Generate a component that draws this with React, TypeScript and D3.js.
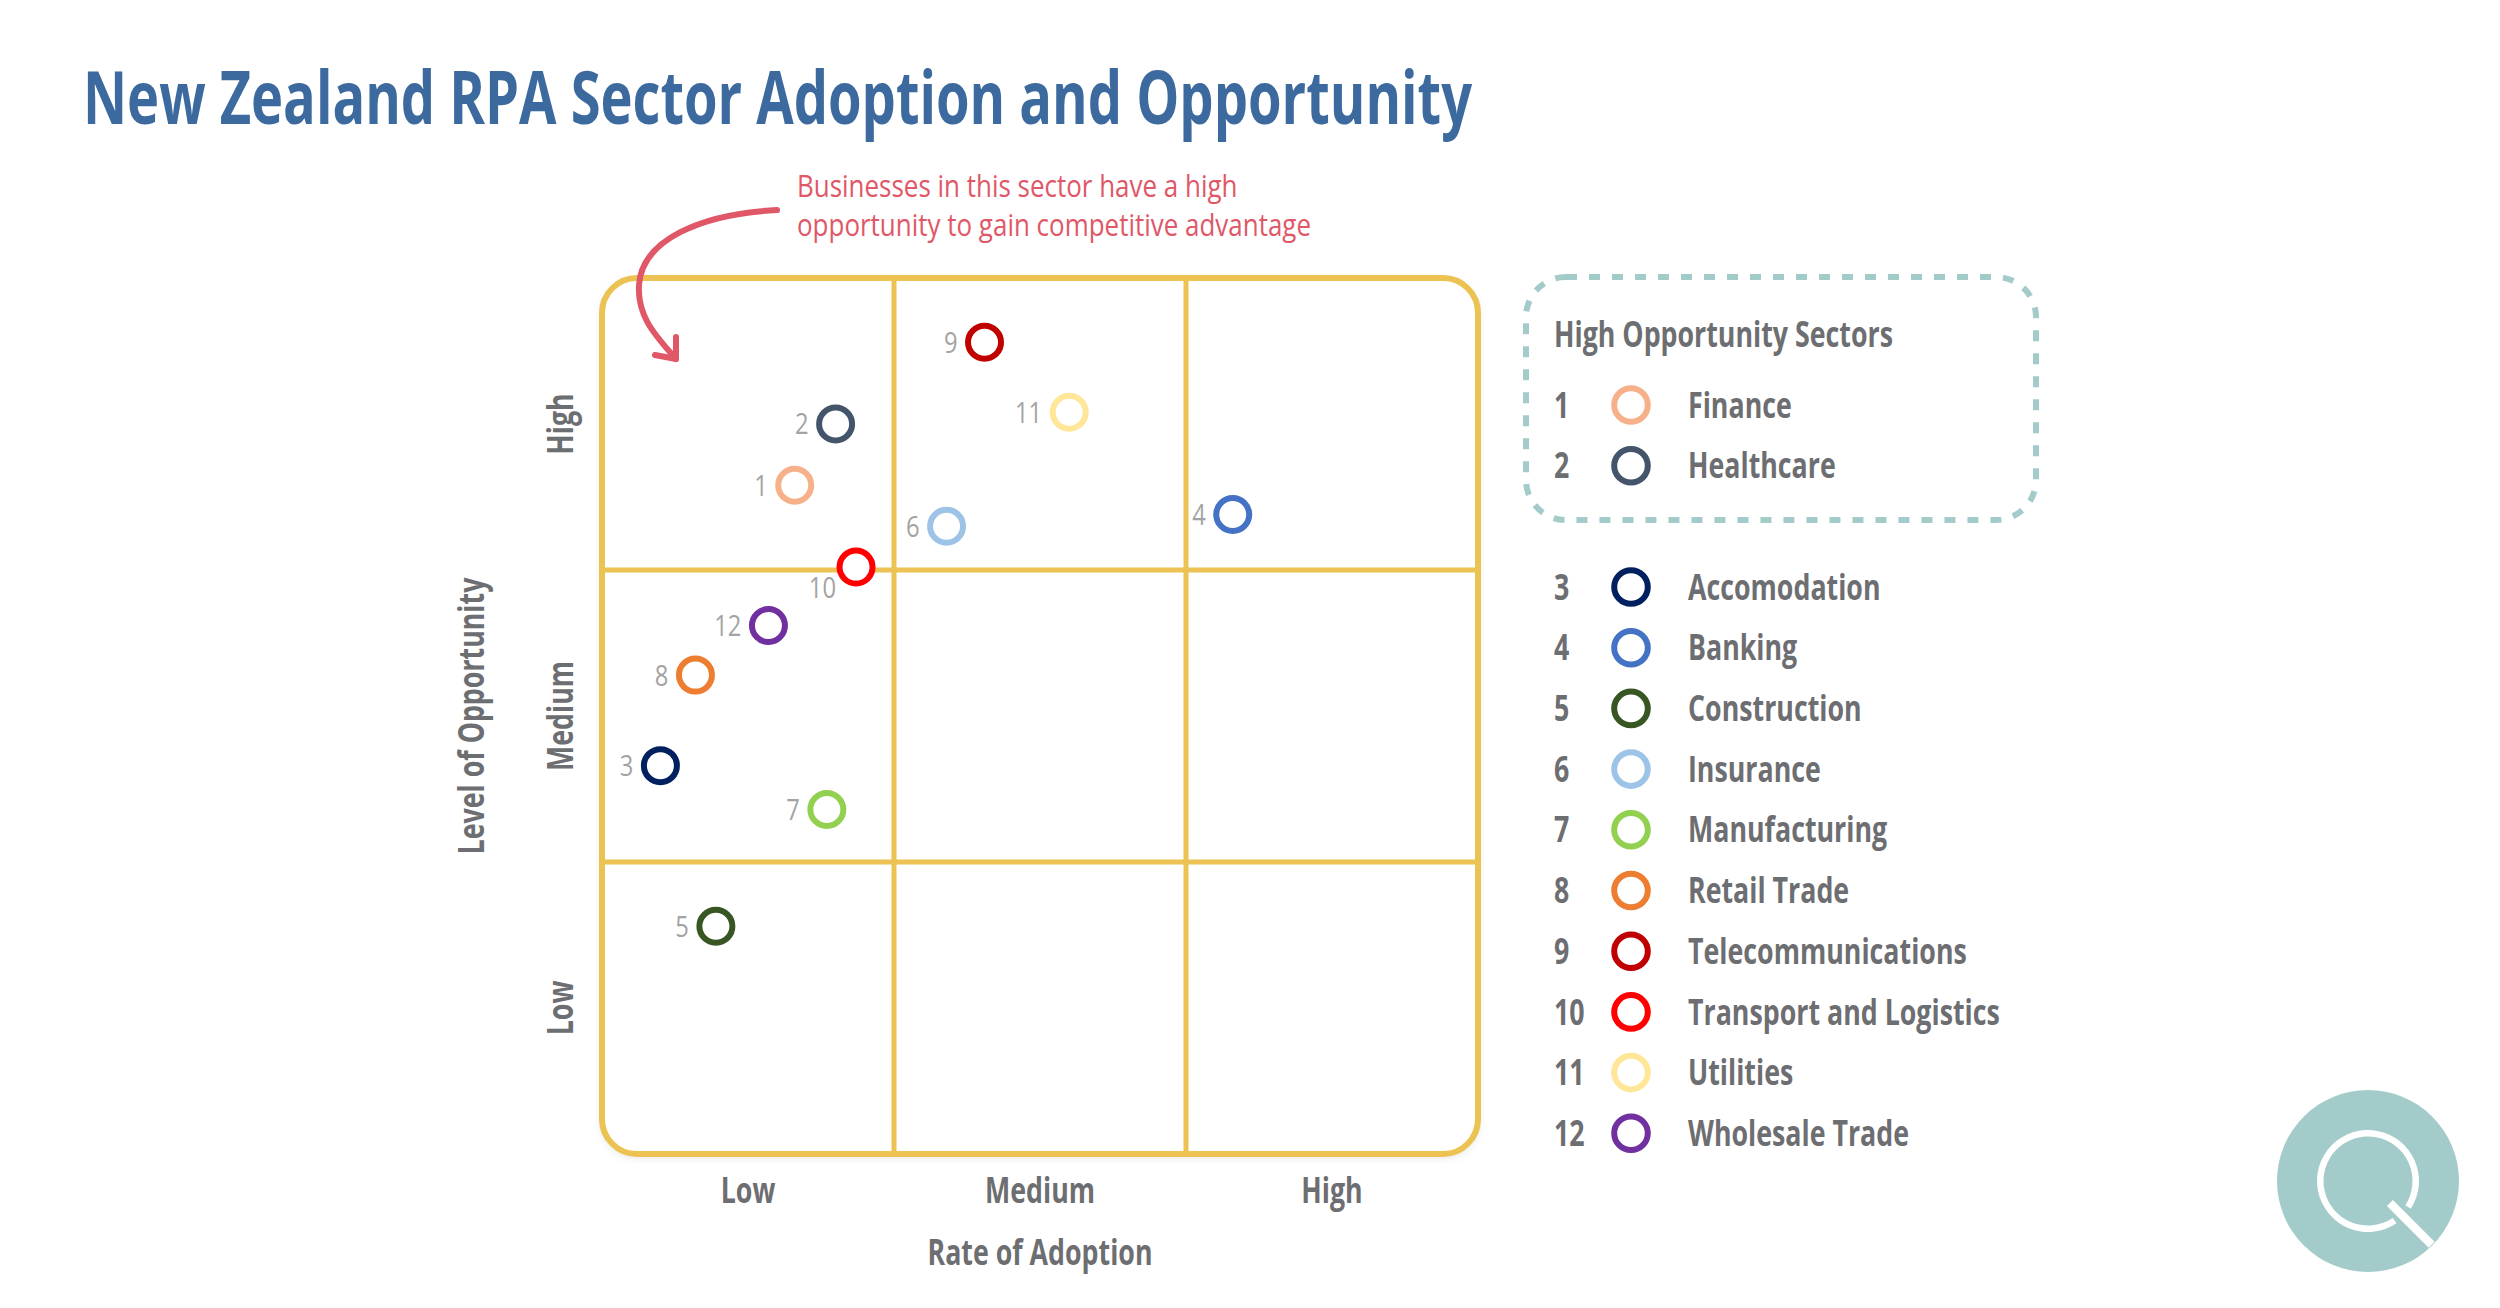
import React from 'react';
import * as d3 from 'd3';

// ---------- data ----------
const sectorIds = [1, 2, 3, 4, 5, 6, 7, 8, 9, 10, 11, 12];
const sectorNames = [
  'Finance', 'Healthcare', 'Accomodation', 'Banking', 'Construction', 'Insurance',
  'Manufacturing', 'Retail Trade', 'Telecommunications', 'Transport and Logistics',
  'Utilities', 'Wholesale Trade',
];
// Rate of adoption (0-3 scale: Low 0-1, Medium 1-2, High 2-3)
const adoptionValues = [0.66, 0.80, 0.20, 2.16, 0.39, 1.18, 0.77, 0.32, 1.31, 0.87, 1.60, 0.57];
// Level of opportunity (0-3 scale)
const opportunityValues = [2.29, 2.50, 1.33, 2.19, 0.78, 2.15, 1.18, 1.64, 2.78, 2.01, 2.54, 1.81];
const sectorColors = [
  '#f7b18a', '#44546a', '#002060', '#4472c4', '#375623', '#9dc3e6',
  '#92d050', '#ed7d31', '#c00000', '#ff0000', '#ffe699', '#7030a0',
];
const highOpportunityIds = [1, 2];
const levelLabels = ['Low', 'Medium', 'High'];

const title = 'New Zealand RPA Sector Adoption and Opportunity';
const annotationLines = ['Businesses in this sector have a high', 'opportunity to gain competitive advantage'];
const legendTitle = 'High Opportunity Sectors';
const xTitle = 'Rate of Adoption';
const yTitle = 'Level of Opportunity';

// ---------- style ----------
const FONT = "'Open Sans','Noto Sans','DejaVu Sans',sans-serif";
const SX = 0.765; // horizontal condensing of bold text
const GRAY = '#6d6e71';
const GOLD = '#ecc252';
const TEAL = '#a3cbca';
const RED = '#e05767';
const TITLE_BLUE = '#3d6a9e';

const W = 2500;
const H = 1308;
const plot = { left: 602, top: 278, size: 876 };

function T(props: any) {
  const { x, y, rot, size = 35, weight = 700, fill = GRAY, anchor = 'start', dy, sx = SX, children } = props;
  const tr = `translate(${x},${y})${rot ? ` rotate(${rot})` : ''} scale(${sx},1)`;
  return (
    <text
      transform={tr}
      dy={dy}
      textAnchor={anchor}
      fontFamily={FONT}
      fontWeight={weight}
      fontSize={size}
      fill={fill}
    >
      {children}
    </text>
  );
}

export default function App() {
  const x = d3.scaleLinear().domain([0, 3]).range([plot.left, plot.left + plot.size]);
  const y = d3.scaleLinear().domain([0, 3]).range([plot.top + plot.size, plot.top]);

  const points = sectorIds.map((id, i) => ({
    id,
    name: sectorNames[i],
    ax: adoptionValues[i],
    op: opportunityValues[i],
    color: sectorColors[i],
  }));

  const boxed = points.filter((p) => highOpportunityIds.includes(p.id));
  const others = points.filter((p) => !highOpportunityIds.includes(p.id));
  const rowStep = 60.7;

  const arrowPath = 'M777,210 C700,214 642,240 639,285 C637,317 656,336 676,359';

  // logo
  const logo = { cx: 2368, cy: 1181, r: 91 };
  const ringArc = d3.arc()({
    innerRadius: 44.5,
    outerRadius: 51,
    startAngle: (146 * Math.PI) / 180,
    endAngle: (483 * Math.PI) / 180,
  } as any) as string;
  const c45 = Math.SQRT1_2;

  const legendRow = (p: any, yy: number) => (
    <g key={p.id}>
      <T x={1554} y={yy} dy="0.36em">{p.id}</T>
      <circle cx={1631} cy={yy} r={16.8} fill="none" stroke={p.color} strokeWidth={6} />
      <T x={1688} y={yy} dy="0.36em">{p.name}</T>
    </g>
  );

  return (
    <svg
      width={W}
      height={H}
      viewBox={`0 0 ${W} ${H}`}
      style={{ position: 'absolute', left: 0, top: 0, display: 'block', background: '#fff' }}
    >
      <defs>
        <filter id="boxShadow" x="-5%" y="-5%" width="110%" height="110%">
          <feDropShadow dx="0" dy="3" stdDeviation="5" floodColor="#000" floodOpacity="0.12" />
        </filter>
      </defs>
      <rect x={0} y={0} width={W} height={H} fill="#fff" />

      {/* title */}
      <text
        x={83}
        y={124}
        fontFamily={FONT}
        fontWeight={700}
        fontSize={74}
        fill={TITLE_BLUE}
        textLength={1389}
        lengthAdjust="spacingAndGlyphs"
      >
        {title}
      </text>

      {/* annotation */}
      {annotationLines.map((line, i) => (
        <T key={i} x={797} y={197 + i * 39} size={31} weight={400} sx={0.838} fill={RED}>
          {line}
        </T>
      ))}

      {/* grid box */}
      <rect
        x={plot.left}
        y={plot.top}
        width={plot.size}
        height={plot.size}
        rx={35}
        fill="#fff"
        filter="url(#boxShadow)"
      />
      {[1, 2].map((v) => (
        <line key={'v' + v} x1={x(v)} x2={x(v)} y1={plot.top} y2={plot.top + plot.size} stroke={GOLD} strokeWidth={5} />
      ))}
      {[1, 2].map((v) => (
        <line key={'h' + v} x1={plot.left} x2={plot.left + plot.size} y1={y(v)} y2={y(v)} stroke={GOLD} strokeWidth={5} />
      ))}
      <rect
        x={plot.left}
        y={plot.top}
        width={plot.size}
        height={plot.size}
        rx={35}
        fill="none"
        stroke={GOLD}
        strokeWidth={6}
      />

      {/* arrow (drawn over box) */}
      <path d={arrowPath} fill="none" stroke={RED} strokeWidth={6} strokeLinecap="round" />
      <path d="M676,337 L676,359 L655,355" fill="none" stroke={RED} strokeWidth={6} strokeLinecap="round" strokeLinejoin="round" />

      {/* points */}
      {points.map((p) => {
        const cx = x(p.ax);
        const cy = y(p.op);
        const below = p.id === 10;
        return (
          <g key={p.id}>
            <circle cx={cx} cy={cy} r={16.5} fill="#fff" stroke={p.color} strokeWidth={6} />
            <T
              x={below ? cx - 20 : cx - 27}
              y={below ? cy + 20 : cy}
              dy="0.36em"
              anchor="end"
              size={29}
              weight={400}
              sx={0.82}
              fill="#a3a3a3"
            >
              {p.id}
            </T>
          </g>
        );
      })}

      {/* x tick labels */}
      {levelLabels.map((l, i) => (
        <T key={'xl' + l} x={x(i + 0.5)} y={1203} anchor="middle">
          {l}
        </T>
      ))}
      {/* y tick labels */}
      {levelLabels.map((l, i) => (
        <T key={'yl' + l} x={573} y={y(i + 0.5)} rot={-90} anchor="middle">
          {l}
        </T>
      ))}

      {/* axis titles */}
      <T x={x(1.5)} y={1265} anchor="middle">
        {xTitle}
      </T>
      <T x={484} y={y(1.5)} rot={-90} anchor="middle">
        {yTitle}
      </T>

      {/* legend: high opportunity box */}
      <rect
        x={1526}
        y={277}
        width={510}
        height={243}
        rx={40}
        fill="none"
        stroke={TEAL}
        strokeWidth={6}
        strokeDasharray="11 12"
      />
      <T x={1554} y={347}>{legendTitle}</T>
      {boxed.map((p, i) => legendRow(p, 405 + i * rowStep))}
      {others.map((p, i) => legendRow(p, 587 + i * rowStep))}

      {/* logo */}
      <circle cx={logo.cx} cy={logo.cy} r={logo.r} fill={TEAL} />
      <path d={ringArc} transform={`translate(${logo.cx},${logo.cy})`} fill="#fff" />
      <line
        x1={logo.cx + 31 * c45}
        y1={logo.cy + 31 * c45}
        x2={logo.cx + 90 * c45}
        y2={logo.cy + 90 * c45}
        stroke="#fff"
        strokeWidth={8.5}
      />
    </svg>
  );
}
